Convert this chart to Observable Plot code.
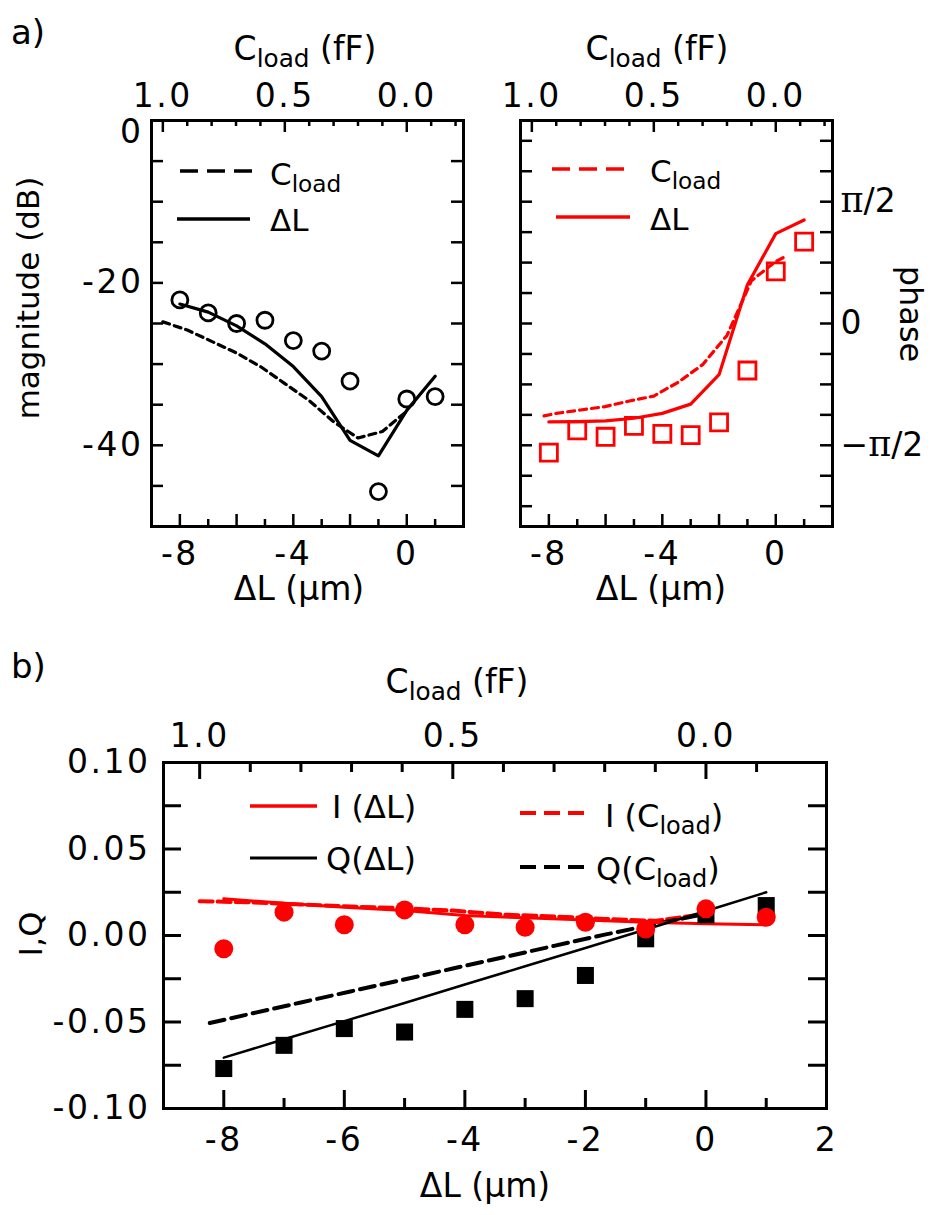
<!DOCTYPE html>
<html>
<head>
<meta charset="utf-8">
<script src="https://cdn.jsdelivr.net/npm/d3@7"></script>
<script src="https://cdn.jsdelivr.net/npm/@observablehq/plot@0.6"></script>
<style>
  body { margin: 0; background: #fff; }
  #fig { position: relative; width: 935px; height: 1215px; background: #fff; font-family: "DejaVu Sans", sans-serif; }
  #fig > svg { position: absolute; }
</style>
</head>
<body>
<div id="fig"></div>
<script>
// ---------- data ----------
// length offset of the resonator ΔL (µm), shared by measurements and ΔL model
const dL = [-8, -7, -6, -5, -4, -3, -2, -1, 0, 1];

// (a) transmission magnitude (dB)
const magMeasured = [-22.1, -23.7, -25.0, -24.6, -27.1, -28.4, -32.1, -45.7, -34.3, -34.0];
const magModelDL  = [-22.6, -23.6, -25.3, -27.5, -30.3, -34.0, -39.4, -41.3, -35.7, -31.5];
// C_load model, evaluated on the load-capacitance grid (fF)
const cLoad       = [1.0, 0.9, 0.8, 0.7, 0.6, 0.5, 0.4, 0.3, 0.2, 0.1, 0.0];
const magModelC   = [-24.8, -25.8, -27.2, -28.6, -30.3, -32.4, -34.5, -37.1, -39.1, -38.3, -35.8];

// (a) phase, in units of π
const phaseMeasured = [-0.530, -0.439, -0.465, -0.420, -0.453, -0.458, -0.406, -0.193, 0.214, 0.336];
const phaseModelDL  = [-0.404, -0.403, -0.400, -0.389, -0.369, -0.331, -0.210, 0.159, 0.369, 0.425];
const cLoadPhase    = [0.95, 0.9, 0.8, 0.7, 0.6, 0.5, 0.4, 0.3, 0.2, 0.1, 0.0, -0.04];
const phaseModelC   = [-0.379, -0.369, -0.355, -0.341, -0.318, -0.298, -0.241, -0.169, -0.049, 0.175, 0.255, 0.275];

// (b) in-phase and quadrature components
const iMeasured = [-0.0077, 0.0135, 0.0062, 0.0148, 0.0062, 0.0048, 0.0077, 0.0038, 0.0154, 0.0106];
const qMeasured = [-0.0769, -0.0635, -0.0538, -0.0558, -0.0427, -0.0365, -0.0231, -0.0019, 0.0120, 0.0173];
const iModelDL  = [0.0212, 0.0187, 0.0163, 0.0144, 0.0115, 0.0102, 0.0090, 0.0077, 0.0068, 0.0062];
const qModelDL  = [-0.0706, -0.0600, -0.0495, -0.0390, -0.0283, -0.0178, -0.0072, 0.0035, 0.0142, 0.0250];
const iModelC   = [0.0198, 0.0192, 0.0179, 0.0167, 0.0158, 0.0144, 0.0121, 0.0110, 0.0096, 0.0085, 0.0125];
const cLoadQ    = [0.98, 0.9, 0.8, 0.7, 0.6, 0.5, 0.4, 0.3, 0.2, 0.1, 0.0];
const qModelC   = [-0.0506, -0.0453, -0.0387, -0.0322, -0.0257, -0.0191, -0.0126, -0.0060, 0.0005, 0.0066, 0.0125];

// µm of ΔL equivalent to 1 fF of load capacitance (top axes)
const umPerFF_a = 8.6;
const umPerFF_b = 8.4;

// ticks and tick labels
const dLEven = [-8, -6, -4, -2, 0];
const dLOdd = [-7, -5, -3, -1, 1];
const dLLabelsA = [-8, -4, 0];
const dLLabelsB = [-8, -6, -4, -2, 0, 2];
const cMajor = [1.0, 0.5, 0.0];
const cMinorA = [0.9, 0.8, 0.7, 0.6, 0.4, 0.3, 0.2, 0.1, -0.1, -0.2];
const cMinorB = [0.9, 0.8, 0.7, 0.6, 0.4, 0.3, 0.2, 0.1, -0.1];
const magTicks = [-5, -10, -15, -20, -25, -30, -35, -40, -45];
const magLabels = [-20, -40];
const magTopLabel = [0];
const phaseTicks = [-6, -5, -4, -3, -2, -1, 0, 1, 2, 3, 4, 5, 6].map(k => k / 8);
const phaseLabels = [0.5, 0, -0.5];
const iqTicks = [-0.075, -0.05, -0.025, 0, 0.025, 0.05, 0.075];
const iqLabels = [0.10, 0.05, 0.00, -0.05, -0.10];

const FONT = "DejaVu Sans";
const RED = "#ff0000";
const TICK_FS = 33;
const fig = document.getElementById("fig");

function place(svg, left, top) {
  svg.style.left = left + "px";
  svg.style.top = top + "px";
  fig.appendChild(svg);
}
const baseStyle = {fontFamily: FONT, fontSize: TICK_FS + "px", letterSpacing: "2.5px", color: "#000", background: "transparent", overflow: "visible"};
const cFmt = k => d => (Math.round(-d / k * 10) / 10).toFixed(1);

// ---------- (a) magnitude ----------
{
  const W = 312, H = 406;
  const plot = Plot.plot({
    width: 470, height: 620,
    marginLeft: 151, marginRight: 7, marginTop: 120, marginBottom: 94,
    x: {domain: [-9, 2]},
    y: {domain: [-50, 0]},
    style: baseStyle,
    marks: [
      Plot.line(cLoad, {x: c => -umPerFF_a * c, y: magModelC, stroke: "#000", strokeWidth: 3.2, strokeDasharray: "7,5"}),
      Plot.line(dL, {x: dL, y: magModelDL, stroke: "#000", strokeWidth: 3.2}),
      Plot.dot(dL, {x: dL, y: magMeasured, r: 8, stroke: "#000", strokeWidth: 2.8, fill: "none"}),
      Plot.tickY(magTicks, {y: d => d, insetRight: W - 12, strokeWidth: 2.5}),
      Plot.tickY(magTicks, {y: d => d, insetLeft: W - 12, strokeWidth: 2.5}),
      Plot.tickX(dLEven, {x: d => d, insetTop: H - 12, strokeWidth: 2.5}),
      Plot.tickX(dLOdd, {x: d => d, insetTop: H - 7, strokeWidth: 2.5}),
      Plot.tickX(cMajor, {x: c => -umPerFF_a * c, insetBottom: H - 12, strokeWidth: 2.5}),
      Plot.tickX(cMinorA, {x: c => -umPerFF_a * c, insetBottom: H - 6, strokeWidth: 2.5}),
      Plot.frame({strokeWidth: 3}),
      Plot.axisX(dLLabelsA, {anchor: "bottom", tickSize: 0, tickPadding: 15, tickFormat: d => String(d), fontSize: TICK_FS, label: null}),
      Plot.axisX(cMajor.map(c => -umPerFF_a * c), {anchor: "top", tickSize: 0, tickPadding: 14, tickFormat: cFmt(umPerFF_a), fontSize: TICK_FS, label: null}),
      Plot.axisY(magLabels, {anchor: "left", tickSize: 0, tickPadding: 8, tickFormat: d => String(d), fontSize: TICK_FS, label: null}),
      // the 0 dB label sits slightly below its tick, clear of the top axis
      Plot.axisY(magTopLabel, {anchor: "left", tickSize: 0, tickPadding: 8, dy: 12, tickFormat: d => String(d), fontSize: TICK_FS, label: null})
    ]
  });
  place(plot, 0, 0);
}

// ---------- (a) phase ----------
{
  const W = 312, H = 406;
  const plot = Plot.plot({
    width: 465, height: 620,
    marginLeft: 50, marginRight: 103, marginTop: 120, marginBottom: 94,
    x: {domain: [-9, 2]},
    y: {domain: [-5 / 6, 5 / 6]},
    style: baseStyle,
    marks: [
      Plot.line(cLoadPhase, {x: c => -umPerFF_a * c, y: phaseModelC, stroke: RED, strokeWidth: 3.2, strokeDasharray: "7,5"}),
      Plot.line(dL, {x: dL, y: phaseModelDL, stroke: RED, strokeWidth: 3.2}),
      Plot.dot(dL, {x: dL, y: phaseMeasured, symbol: "square", r: 9.6, stroke: RED, strokeWidth: 2.8, fill: "none"}),
      Plot.tickY(phaseTicks, {y: d => d, insetRight: W - 12, strokeWidth: 2.5}),
      Plot.tickY(phaseTicks, {y: d => d, insetLeft: W - 12, strokeWidth: 2.5}),
      Plot.tickX(dLEven, {x: d => d, insetTop: H - 12, strokeWidth: 2.5}),
      Plot.tickX(dLOdd, {x: d => d, insetTop: H - 7, strokeWidth: 2.5}),
      Plot.tickX(cMajor, {x: c => -umPerFF_a * c, insetBottom: H - 12, strokeWidth: 2.5}),
      Plot.tickX(cMinorA, {x: c => -umPerFF_a * c, insetBottom: H - 6, strokeWidth: 2.5}),
      Plot.frame({strokeWidth: 3}),
      Plot.axisX(dLLabelsA, {anchor: "bottom", tickSize: 0, tickPadding: 15, tickFormat: d => String(d), fontSize: TICK_FS, label: null}),
      Plot.axisX(cMajor.map(c => -umPerFF_a * c), {anchor: "top", tickSize: 0, tickPadding: 14, tickFormat: cFmt(umPerFF_a), fontSize: TICK_FS, label: null}),
      Plot.axisY(phaseLabels, {anchor: "right", tickSize: 0, tickPadding: 8, fontSize: TICK_FS, label: null,
        tickFormat: d => d === 0 ? "0" : (d > 0 ? "π/2" : "\u2212π/2")})
    ]
  });
  // set the π glyph in a serif face
  d3.select(plot).selectAll("text").filter(function() { return this.textContent.includes("π"); })
    .each(function() {
      const s = this.textContent;
      const t = d3.select(this).text(null).style("letter-spacing", "0px");
      for (const part of s.split(/(π)/)) {
        if (!part) continue;
        const ts = t.append("tspan").text(part);
        if (part === "π") ts.attr("font-family", "DejaVu Serif").attr("font-size", TICK_FS + 2);
      }
    });
  place(plot, 470, 0);
}

// ---------- (b) I and Q ----------
{
  const W = 663, H = 346;
  const plot = Plot.plot({
    width: 935, height: 595,
    marginLeft: 163, marginRight: 109, marginTop: 142, marginBottom: 107,
    x: {domain: [-9, 2]},
    y: {domain: [-0.1, 0.1]},
    style: baseStyle,
    marks: [
      Plot.line(cLoad, {x: c => -umPerFF_b * c, y: iModelC, stroke: RED, strokeWidth: 4, strokeDasharray: "13,5"}),
      Plot.line(cLoadQ, {x: c => -umPerFF_b * c, y: qModelC, stroke: "#000", strokeWidth: 4, strokeDasharray: "15,7"}),
      Plot.line(dL, {x: dL, y: iModelDL, stroke: RED, strokeWidth: 3}),
      Plot.line(dL, {x: dL, y: qModelDL, stroke: "#000", strokeWidth: 2.5}),
      Plot.dot(dL, {x: dL, y: qMeasured, symbol: "square", r: 9.6, fill: "#000"}),
      Plot.dot(dL, {x: dL, y: iMeasured, r: 9.5, fill: RED}),
      Plot.tickY(iqTicks, {y: d => d, insetRight: W - 18, strokeWidth: 3}),
      Plot.tickY(iqTicks, {y: d => d, insetLeft: W - 18, strokeWidth: 3}),
      Plot.tickX(dLEven, {x: d => d, insetTop: H - 18, strokeWidth: 3}),
      Plot.tickX(dLOdd, {x: d => d, insetTop: H - 10, strokeWidth: 3}),
      Plot.tickX(cMajor, {x: c => -umPerFF_b * c, insetBottom: H - 17, strokeWidth: 3}),
      Plot.tickX(cMinorB, {x: c => -umPerFF_b * c, insetBottom: H - 10, strokeWidth: 3}),
      Plot.frame({strokeWidth: 3}),
      Plot.axisX(dLLabelsB, {anchor: "bottom", tickSize: 0, tickPadding: 19, tickFormat: d => String(d), fontSize: TICK_FS, label: null}),
      Plot.axisX(cMajor.map(c => -umPerFF_b * c), {anchor: "top", tickSize: 0, tickPadding: 16, tickFormat: cFmt(umPerFF_b), fontSize: TICK_FS, label: null}),
      Plot.axisY(iqLabels, {anchor: "left", tickSize: 0, tickPadding: 13, tickFormat: d => d.toFixed(2), fontSize: TICK_FS, label: null})
    ]
  });
  place(plot, 0, 620);
}

// ---------- titles, panel letters and legends ----------
const over = d3.create("svg")
  .attr("width", 935).attr("height", 1215)
  .style("left", "0px").style("top", "0px")
  .style("font-family", FONT).style("overflow", "visible");

// text with optional subscript parts: parts = [[string, isSub], ...]
function label(x, y, parts, {size = 32, anchor = "start", rotate = 0, baseline = null} = {}) {
  const t = over.append("text")
    .attr("transform", `translate(${x},${y}) rotate(${rotate})`)
    .attr("text-anchor", anchor)
    .attr("font-size", size)
    .attr("fill", "#000");
  if (baseline) t.attr("dominant-baseline", baseline);
  const shift = size * 0.22;
  let inSub = false;
  for (const [s, sub] of parts) {
    const ts = t.append("tspan").text(s);
    if (sub && !inSub) { ts.attr("font-size", size * 0.75).attr("dy", shift); inSub = true; }
    else if (!sub && inSub) { ts.attr("dy", -shift); inSub = false; }
  }
  return t;
}
function swatch(x1, x2, y, color, width, dash) {
  over.append("line").attr("x1", x1).attr("x2", x2).attr("y1", y).attr("y2", y)
    .attr("stroke", color).attr("stroke-width", width)
    .attr("stroke-dasharray", dash || null);
}

const cTitle = [["C"], ["load", true], [" (fF)"]];
const dLTitle = [["\u0394L (\u03bcm)"]];

label(11, 44, [["a)"]], {size: 34});
label(11, 678, [["b)"]], {size: 34});

label(305, 60, cTitle, {size: 33, anchor: "middle"});
label(657, 60, cTitle, {size: 33, anchor: "middle"});
label(457, 693, cTitle, {size: 33, anchor: "middle"});

label(299, 600, dLTitle, {size: 33, anchor: "middle"});
label(661, 600, dLTitle, {size: 33, anchor: "middle"});
label(485, 1197, dLTitle, {size: 33, anchor: "middle"});

label(28, 298, [["magnitude (dB)"]], {size: 31, anchor: "middle", rotate: -90, baseline: "central"});
label(911, 314, [["phase"]], {size: 32, anchor: "middle", rotate: 90, baseline: "central"});
label(31, 934, [["I,Q"]], {size: 32, anchor: "middle", rotate: -90, baseline: "central"});

// legend, magnitude panel
swatch(180, 253, 171, "#000", 3.5, "18,9");
label(270, 185, [["C"], ["load", true]], {size: 31});
swatch(177, 250, 219, "#000", 3.5);
label(270, 231, [["\u0394L"]], {size: 31});

// legend, phase panel
swatch(552, 627, 169, RED, 3.5, "18,9");
label(650, 182, [["C"], ["load", true]], {size: 31});
swatch(556, 630, 217, RED, 3.5);
label(650, 230, [["\u0394L"]], {size: 31});

// legend, I/Q panel
swatch(250, 317, 806, RED, 3.5);
label(332, 818, [["I (\u0394L)"]], {size: 32});
swatch(250, 317, 858, "#000", 3);
label(326, 870, [["Q(\u0394L)"]], {size: 32});
swatch(520, 592, 813, RED, 4, "16,8");
label(605, 827, [["I (C"], ["load", true], [")"]], {size: 32});
swatch(520, 592, 867, "#000", 4, "16,8");
label(596, 880, [["Q(C"], ["load", true], [")"]], {size: 32});

fig.appendChild(over.node());
</script>
</body>
</html>
